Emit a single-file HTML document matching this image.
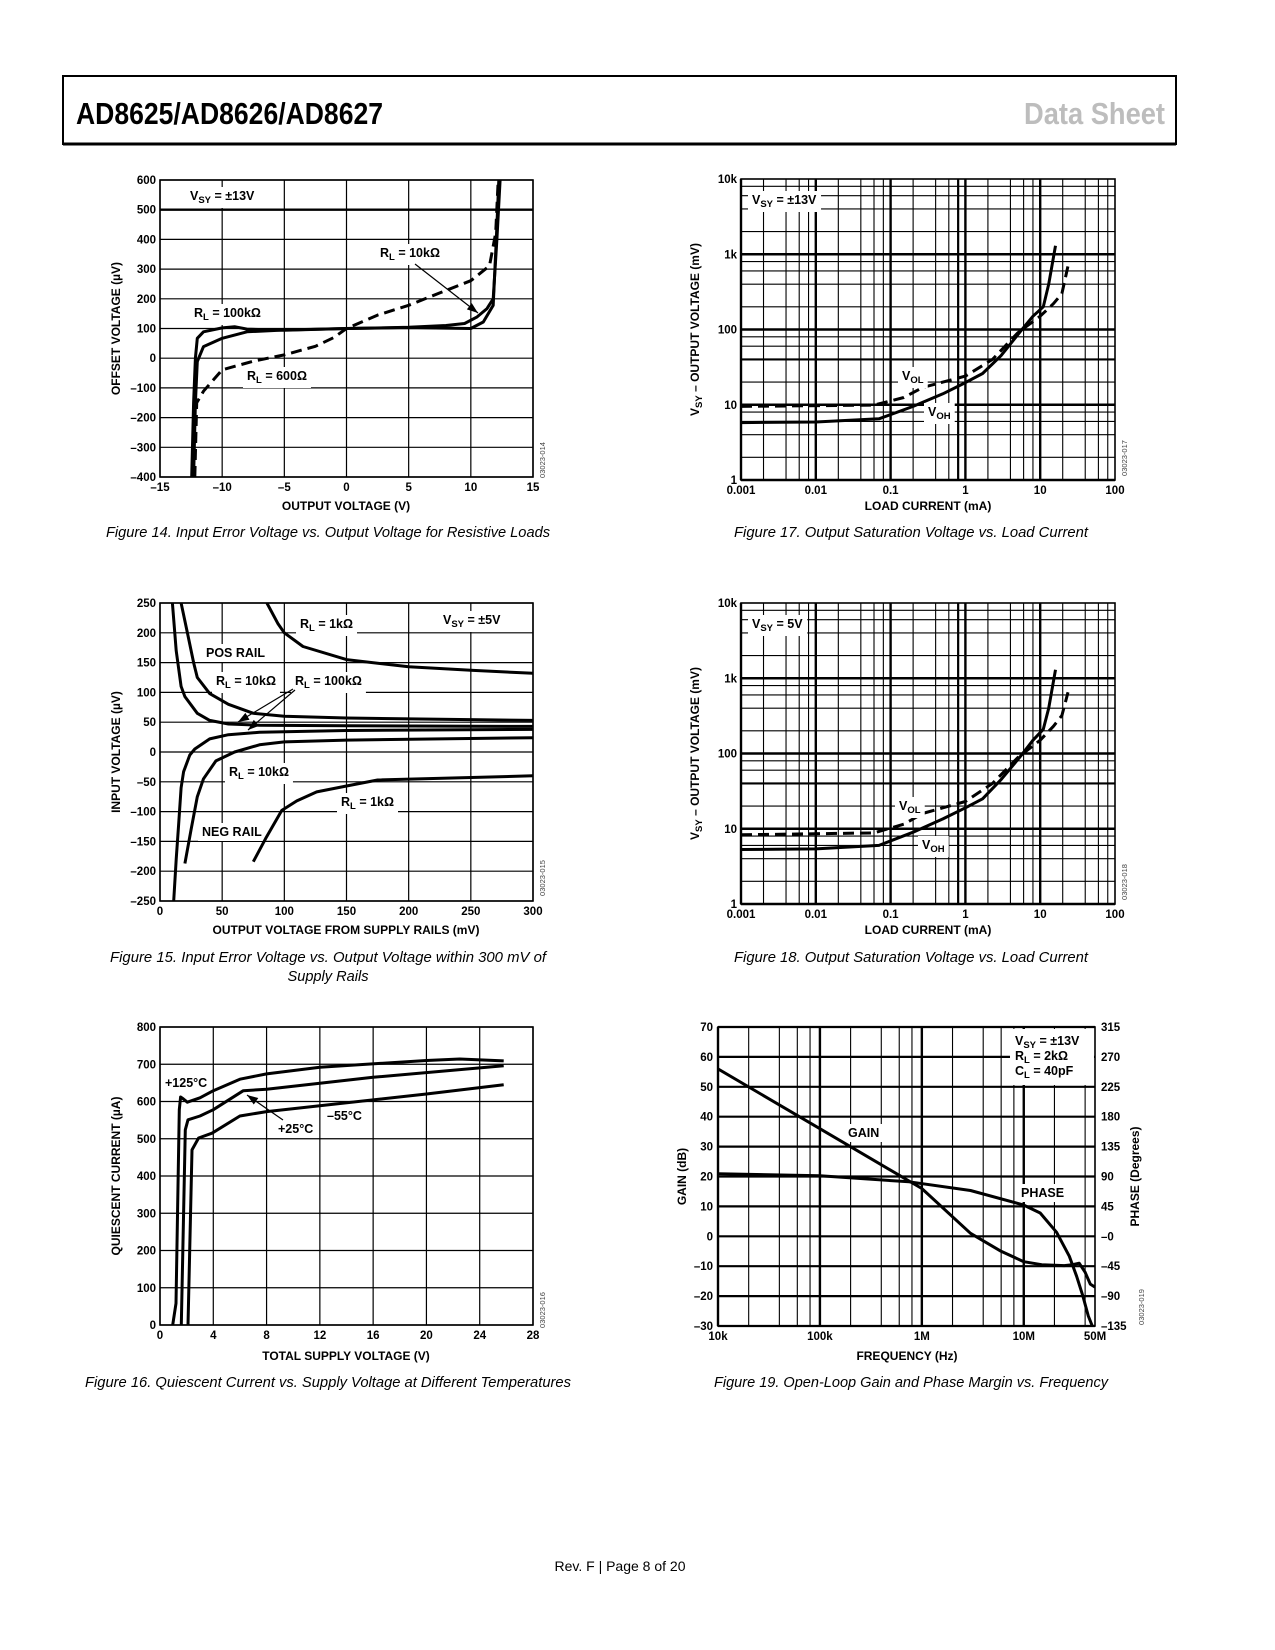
<!DOCTYPE html>
<html><head><meta charset="utf-8"><style>
html,body{margin:0;padding:0;background:#fff;}
svg{display:block;font-family:"Liberation Sans",Arial,sans-serif;}
</style></head><body>
<svg id="page" width="1275" height="1650" viewBox="0 0 1275 1650" xmlns="http://www.w3.org/2000/svg">
<rect x="0" y="0" width="1275" height="1650" fill="#fff"/>
<g>
<rect x="63" y="76" width="1113" height="68" fill="none" stroke="#000" stroke-width="2"/>
<line x1="63" y1="144" x2="1176" y2="144" stroke="#000" stroke-width="3"/>
<text x="76" y="124" font-family="'Liberation Sans Narrow','Liberation Sans',sans-serif" font-weight="bold" font-size="31" textLength="307" lengthAdjust="spacingAndGlyphs">AD8625/AD8626/AD8627</text>
<text x="1024" y="124" font-family="'Liberation Sans Narrow','Liberation Sans',sans-serif" font-weight="bold" font-size="31" fill="#bdbdbd" textLength="141" lengthAdjust="spacingAndGlyphs">Data Sheet</text>
</g>
<text x="620" y="1571" text-anchor="middle" font-size="14">Rev. F | Page 8 of 20</text>
</svg>
<script>
// ---------- DATA ----------
// Fig 14 (x: V, y: µV)
const f14_rl100k = [[-12.45,-400],[-12.3,-150],[-12.15,0],[-12.0,67],[-11.5,89],[-10,102],[-9,106],[-8,98],[-5,94],[0,100],[5,104],[8,110],[9.5,117],[10.5,139],[11.3,167],[11.8,200],[12.1,400],[12.35,600]];
const f14_rl10k = [[-12.3,-400],[-12.15,-150],[-12.0,-11],[-11.5,39],[-10,67],[-8,89],[-5,95],[0,100],[5,103],[10,100],[11,122],[11.8,178],[12.05,400],[12.25,600]];
const f14_rl600 = [[-12.2,-400],[-12.05,-150],[-11.5,-111],[-10,-39],[-7.5,-10],[-5,11],[-2.5,40],[-1,70],[0,100],[2.5,145],[5,178],[7.5,220],[10,261],[11.5,311],[12,422],[12.2,600]];
const f14_xticks = [-15,-10,-5,0,5,10,15];
const f14_yticks = [-400,-300,-200,-100,0,100,200,300,400,500,600];
// Fig 15 (x: mV, y: µV)
const f15_pos100k = [[10,250],[13,170],[17,110],[20,93],[30,65],[40,53],[55,47],[80,45],[150,44],[300,43]];
const f15_pos10k = [[17,250],[22,200],[27,150],[30,125],[40,98],[55,80],[75,65],[100,60],[150,57],[300,53]];
const f15_pos1k = [[86,250],[95,215],[100,200],[115,177],[150,155],[200,143],[250,137],[300,132]];
const f15_neg100k = [[11,-250],[13,-180],[15,-120],[17,-60],[19,-33],[24,-5],[28,5],[40,22],[55,29],[80,33],[150,36],[300,38]];
const f15_neg10k = [[20,-187],[25,-130],[30,-75],[35,-45],[45,-15],[60,0],[80,12],[100,17],[150,20],[300,24]];
const f15_neg1k = [[75,-184],[85,-145],[98,-98],[110,-82],[126,-67],[150,-57],[175,-47],[300,-40]];
const f15_xticks = [0,50,100,150,200,250,300];
const f15_yticks = [-250,-200,-150,-100,-50,0,50,100,150,200,250];
// Fig 16 (x: V, y: µA)
const f16_t125 = [[0.95,0],[1.2,58],[1.45,578],[1.55,612],[1.75,607],[2.05,598],[3,610],[4,629],[6,660],[8,674],[12,692],[20,710],[22.5,714],[25.8,709]];
const f16_t25 = [[1.6,0],[1.9,524],[2.1,551],[3,561],[4,578],[6.25,629],[8,633],[16,665],[25.8,696]];
const f16_tm55 = [[2.1,0],[2.4,470],[2.9,502],[3.9,515],[6,561],[8,573],[20,620],[25.8,645]];
const f16_xticks = [0,4,8,12,16,20,24,28];
const f16_yticks = [0,100,200,300,400,500,600,700,800];
// Fig 17 (x: mA, y: mV)
const f17_voh = [[0.001,5.8],[0.01,5.9],[0.07,6.5],[0.2,9.5],[0.5,14],[1,19.7],[1.7,26],[3,45],[5.6,98],[8,150],[11,200],[13,400],[16,1300]];
const f17_vol = [[0.001,9.5],[0.06,9.9],[0.15,12.5],[0.27,17],[0.5,20],[1,24],[2.3,40],[5,90],[10,150],[15,220],[19.5,300],[23.5,700]];
// Fig 18 (x: mA, y: mV)
const f18_voh = [[0.001,5.3],[0.01,5.4],[0.07,6.0],[0.2,9],[0.5,13.5],[1,19],[1.7,25],[3,45],[5.6,95],[8,150],[11,210],[13,400],[16,1300]];
const f18_vol = [[0.001,8.3],[0.06,8.8],[0.15,11.5],[0.27,16],[0.5,19],[1,23],[2.3,40],[5,88],[10,150],[15,230],[19.5,320],[23.5,650]];
const logXticks = [0.001,0.01,0.1,1,10,100];
const logXlabels = ["0.001","0.01","0.1","1","10","100"];
const logYticks = [1,10,100,1000,10000];
const logYlabels = ["1","10","100","1k","10k"];
// Fig 19 (x: Hz, gain dB, phase deg)
const f19_gain = [[1e4,56],[1e5,36],[1e6,16],[3e6,1],[6e6,-5],[1e7,-8.5],[1.5e7,-9.5],[2.5e7,-9.8],[3e7,-9.5],[3.5e7,-9],[4e7,-12],[4.5e7,-16],[5e7,-17]];
const f19_phase = [[1e4,94],[1e5,91],[7.5e5,82],[3e6,69],[1e7,47],[1.45e7,35],[2.1e7,6],[2.8e7,-30],[3.3e7,-60],[3.8e7,-90],[4.3e7,-120],[4.7e7,-135]];
const f19_xticks = [1e4,1e5,1e6,1e7,5e7];
const f19_xlabels = ["10k","100k","1M","10M","50M"];
const f19_gticks = [-30,-20,-10,0,10,20,30,40,50,60,70];
const f19_pticks = ["\u2013135","\u201390","\u201345","\u20130","45","90","135","180","225","270","315"];

// ---------- HELPERS ----------
const NS = "http://www.w3.org/2000/svg";
const page = document.getElementById('page');
const MINORS = [2,4,6,8];
function mk(tag, attrs, parent) {
  const e = document.createElementNS(NS, tag);
  for (const k in attrs) e.setAttribute(k, attrs[k]);
  (parent || page).appendChild(e);
  return e;
}
function fmt(v){ return v < 0 ? "\u2013" + Math.abs(v) : String(v); }
function lin(d0,d1,r0,r1){ return v => r0 + (v-d0)*(r1-r0)/(d1-d0); }
function lg(d0,d1,r0,r1){ const a=Math.log10(d0), b=Math.log10(d1); return v => r0 + (Math.log10(v)-a)*(r1-r0)/(b-a); }
function pathD(pts, sx, sy){
  return pts.map((p,i)=>(i?'L':'M')+sx(p[0]).toFixed(1)+' '+sy(p[1]).toFixed(1)).join(' ');
}
let clipN = 0;
function frame(g, x0,y0,x1,y1){
  const id = 'clip'+(clipN++);
  const cp = mk('clipPath',{id:id}, g);
  mk('rect',{x:x0,y:y0,width:x1-x0,height:y1-y0}, cp);
  return id;
}
function curve(g, pts, sx, sy, clip, dashed, name){
  const p = mk('path',{d:pathD(pts,sx,sy), fill:'none', stroke:'#000', 'stroke-width':3, 'stroke-linejoin':'round', 'clip-path':'url(#'+clip+')'}, g);
  if (dashed) p.setAttribute('stroke-dasharray','11 6');
  
  
  return p;
}
function label(g, x, y, html, name, bg){
  const t = mk('text',{x:x,y:y,'font-size':12.5,'font-weight':'bold'}, g);
  t.innerHTML = html;
  
  
  if (bg){
    const b = t.getBBox();
    const r = document.createElementNS(NS,'rect');
    r.setAttribute('x', b.x-4); r.setAttribute('y', b.y-2); r.setAttribute('width', b.width+8); r.setAttribute('height', b.height+4); r.setAttribute('fill','#fff');
    g.insertBefore(r, t);
  }
  return t;
}
function sub(main, s, rest){ return main + '<tspan dy="3" font-size="9.5">'+s+'</tspan><tspan dy="-3">'+rest+'</tspan>'; }
function arrow(g, x1,y1,x2,y2, name){
  const l = mk('line',{x1:x1,y1:y1,x2:x2,y2:y2,stroke:'#000','stroke-width':1.2}, g);
  
  
  const a = Math.atan2(y2-y1,x2-x1), L=11, W=4;
  const bx=x2-L*Math.cos(a), by=y2-L*Math.sin(a);
  mk('polygon',{points:`${x2},${y2} ${bx+W*Math.sin(a)},${by-W*Math.cos(a)} ${bx-W*Math.sin(a)},${by+W*Math.cos(a)}`, fill:'#000'}, g);
}
function tickText(g, x, y, s, anchor){
  const t = mk('text',{x:x,y:y,'font-size':11.5,'font-weight':'bold','text-anchor':anchor}, g);
  t.textContent = s;
  
  
  return t;
}
function axisTitle(g, x, y, s, rot, name){
  const t = mk('text',{x:x,y:y,'font-size':12,'font-weight':'bold','text-anchor':'middle'}, g);
  if (rot) t.setAttribute('transform',`rotate(-90 ${x} ${y})`);
  t.innerHTML = s;
  
  
}
function code(g, x, y, s){
  const t = mk('text',{x:x,y:y,'font-size':7.5,fill:'#444','text-anchor':'middle',transform:`rotate(-90 ${x} ${y})`}, g);
  t.textContent = s;
  
  
}
function caption(x, y, s, w, name){
  const t = mk('text',{x:x,y:y,'font-size':15,'font-style':'italic','text-anchor':'middle',textLength:w,lengthAdjust:'spacingAndGlyphs'});
  t.textContent = s;
  
  
}
function linGrid(g, x0,y0,x1,y1, xt, yt, sx, sy, thickY){
  xt.forEach(v=>mk('line',{x1:sx(v),y1:y0,x2:sx(v),y2:y1,stroke:'#000','stroke-width':1.2},g));
  yt.forEach(v=>mk('line',{x1:x0,y1:sy(v),x2:x1,y2:sy(v),stroke:'#000','stroke-width':(thickY&&thickY.includes(v))?2.4:1.2},g));
  mk('rect',{x:x0,y:y0,width:x1-x0,height:y1-y0,fill:'none',stroke:'#000','stroke-width':1.6},g);
  xt.forEach(v=>tickText(g, sx(v), y1+14, fmt(v), 'middle'));
  yt.forEach(v=>tickText(g, x0-4, sy(v)+4, fmt(v), 'end'));
}
function logGridX(g, dmin, dmax, sx, y0, y1, thick){
  for (let d=dmin; d<dmax*0.999; d*=10){
    [1].concat(MINORS).forEach(m=>{ const v=d*m; if (v>dmax*1.0001) return;
      mk('line',{x1:sx(v),y1:y0,x2:sx(v),y2:y1,stroke:'#000','stroke-width':m===1?thick:1.1},g); });
  }
}
function logGridY(g, dmin, dmax, sy, x0, x1, thick){
  for (let d=dmin; d<dmax*0.999; d*=10){
    [1].concat(MINORS).forEach(m=>{ const v=d*m; if (v>dmax*1.0001) return;
      mk('line',{x1:x0,y1:sy(v),x2:x1,y2:sy(v),stroke:'#000','stroke-width':m===1?thick:1.1},g); });
  }
}

// ---------- FIG 14 ----------
(function(){
  const g = mk('g',{});
  
  
  const X0=160,X1=533,Y0=180,Y1=477;
  const sx=lin(-15,15,X0,X1), sy=lin(-400,600,Y1,Y0);
  linGrid(g,X0,Y0,X1,Y1,f14_xticks,f14_yticks,sx,sy,[500]);
  const c=frame(g,X0,Y0,X1,Y1);
  label(g,190,200,sub('V','SY',' = \u00b113V'),'vsy-label',true);
  curve(g,f14_rl100k,sx,sy,c,false,'series-rl-100k');
  curve(g,f14_rl10k,sx,sy,c,false,'series-rl-10k');
  curve(g,f14_rl600,sx,sy,c,true,'series-rl-600');
  label(g,380,257,sub('R','L',' = 10k\u03a9'),'rl-10k-label',true);
  arrow(g,415,264,478,313,'rl-10k-arrow');
  label(g,194,317,sub('R','L',' = 100k\u03a9'),'rl-100k-label',true);
  label(g,247,380,sub('R','L',' = 600\u03a9'),'rl-600-label',true);
  axisTitle(g,346,510,'OUTPUT VOLTAGE (V)',false,'x-axis-title');
  axisTitle(g,120,(Y0+Y1)/2,'OFFSET VOLTAGE (\u00b5V)',true,'y-axis-title');
  code(g,545,460,'03023-014');
})();
caption(328,537,'Figure 14. Input Error Voltage vs. Output Voltage for Resistive Loads',444,'fig14-caption');

// ---------- FIG 15 ----------
(function(){
  const g = mk('g',{});
  
  
  const X0=160,X1=533,Y0=603,Y1=901;
  const sx=lin(0,300,X0,X1), sy=lin(-250,250,Y1,Y0);
  linGrid(g,X0,Y0,X1,Y1,f15_xticks,f15_yticks,sx,sy,[]);
  const c=frame(g,X0,Y0,X1,Y1);
  [[300,628,sub('R','L',' = 1k\u03a9'),'rl-1k-pos-label'],[443,624,sub('V','SY',' = \u00b15V'),'vsy-label'],
   [206,657,'POS RAIL','pos-rail-label'],[216,685,sub('R','L',' = 10k\u03a9'),'rl-10k-pos-label'],
   [295,685,sub('R','L',' = 100k\u03a9'),'rl-100k-label'],[229,776,sub('R','L',' = 10k\u03a9'),'rl-10k-neg-label'],
   [341,806,sub('R','L',' = 1k\u03a9'),'rl-1k-neg-label'],[202,836,'NEG RAIL','neg-rail-label']].forEach(l=>label(g,l[0],l[1],l[2],l[3],true));
  curve(g,f15_pos100k,sx,sy,c,false,'series-pos-100k');
  curve(g,f15_pos10k,sx,sy,c,false,'series-pos-10k');
  curve(g,f15_pos1k,sx,sy,c,false,'series-pos-1k');
  curve(g,f15_neg100k,sx,sy,c,false,'series-neg-100k');
  curve(g,f15_neg10k,sx,sy,c,false,'series-neg-10k');
  curve(g,f15_neg1k,sx,sy,c,false,'series-neg-1k');
  arrow(g,293,689,238,722,'rl-arrow-1');
  arrow(g,295,690,248,730,'rl-arrow-2');
  axisTitle(g,346,934,'OUTPUT VOLTAGE FROM SUPPLY RAILS (mV)',false,'x-axis-title');
  axisTitle(g,120,(Y0+Y1)/2,'INPUT VOLTAGE (\u00b5V)',true,'y-axis-title');
  code(g,545,878,'03023-015');
})();
caption(328,962,'Figure 15. Input Error Voltage vs. Output Voltage within 300 mV of',436,'fig15-caption-line1');
caption(328,981,'Supply Rails',81,'fig15-caption-line2');

// ---------- FIG 16 ----------
(function(){
  const g = mk('g',{});
  
  
  const X0=160,X1=533,Y0=1027,Y1=1325;
  const sx=lin(0,28,X0,X1), sy=lin(0,800,Y1,Y0);
  linGrid(g,X0,Y0,X1,Y1,f16_xticks,f16_yticks,sx,sy,[]);
  const c=frame(g,X0,Y0,X1,Y1);
  label(g,165,1087,'+125\u00b0C','t125-label',true);
  label(g,327,1120,'\u201355\u00b0C','tm55-label',true);
  label(g,278,1133,'+25\u00b0C','t25-label',true);
  curve(g,f16_t125,sx,sy,c,false,'series-125c');
  curve(g,f16_t25,sx,sy,c,false,'series-25c');
  curve(g,f16_tm55,sx,sy,c,false,'series-minus55c');
  arrow(g,283,1120,247,1095,'t25-arrow');
  axisTitle(g,346,1360,'TOTAL SUPPLY VOLTAGE (V)',false,'x-axis-title');
  axisTitle(g,120,(Y0+Y1)/2,'QUIESCENT CURRENT (\u00b5A)',true,'y-axis-title');
  code(g,545,1310,'03023-016');
})();
caption(328,1387,'Figure 16. Quiescent Current vs. Supply Voltage at Different Temperatures',486,'fig16-caption');

// ---------- FIG 17 / 18 ----------
function satChart(Y0, voh, vol, vsyText, codeTxt, name, volPos, vohPos){
  const g = mk('g',{});
  
  
  const X0=741,X1=1115,Y1=Y0+301;
  const sx=lg(0.001,100,X0,X1), sy=lg(1,10000,Y1,Y0);
  logGridX(g,0.001,100,sx,Y0,Y1,2.4);
  logGridY(g,1,10000,sy,X0,X1,2.4);
  mk('line',{x1:sx(0.8),y1:Y0,x2:sx(0.8),y2:Y1,stroke:'#000','stroke-width':2.2},g);
  mk('line',{x1:X0,y1:sy(40),x2:X1,y2:sy(40),stroke:'#000','stroke-width':2.2},g);
  mk('rect',{x:X0,y:Y0,width:X1-X0,height:Y1-Y0,fill:'none',stroke:'#000','stroke-width':1.6},g);
  logXticks.forEach((v,i)=>tickText(g,sx(v),Y1+14,logXlabels[i],'middle'));
  logYticks.forEach((v,i)=>tickText(g,X0-4,sy(v)+4,logYlabels[i],'end'));
  const c=frame(g,X0,Y0,X1,Y1);
  label(g,752,Y0+25,vsyText,'vsy-label',true);
  curve(g,voh,sx,sy,c,false,'series-voh');
  curve(g,vol,sx,sy,c,true,'series-vol');
  label(g,volPos[0],volPos[1],sub('V','OL',''),'vol-label',true);
  label(g,vohPos[0],vohPos[1],sub('V','OH',''),'voh-label',true);
  axisTitle(g,928,Y1+30,'LOAD CURRENT (mA)',false,'x-axis-title');
  axisTitle(g,699,(Y0+Y1)/2,sub('V','SY',' \u2013 OUTPUT VOLTAGE (mV)'),true,'y-axis-title');
  code(g,1127,Y1-22,codeTxt);
}
satChart(179,f17_voh,f17_vol,sub('V','SY',' = \u00b113V'),'03023-017','fig17-saturation-chart',[902,380],[928,416]);
caption(911,537,'Figure 17. Output Saturation Voltage vs. Load Current',354,'fig17-caption');
satChart(603,f18_voh,f18_vol,sub('V','SY',' = 5V'),'03023-018','fig18-saturation-chart',[899,810],[922,849]);
caption(911,962,'Figure 18. Output Saturation Voltage vs. Load Current',354,'fig18-caption');

// ---------- FIG 19 ----------
(function(){
  const g = mk('g',{});
  
  
  const X0=718,X1=1095,Y0=1027,Y1=1326;
  const sx=lg(1e4,5e7,X0,X1), sy=lin(-30,70,Y1,Y0), syp=lin(-135,315,Y1,Y0);
  logGridX(g,1e4,5e7,sx,Y0,Y1,2.4);
  f19_gticks.forEach(v=>mk('line',{x1:X0,y1:sy(v),x2:X1,y2:sy(v),stroke:'#000','stroke-width':2.2},g));
  mk('rect',{x:X0,y:Y0,width:X1-X0,height:Y1-Y0,fill:'none',stroke:'#000','stroke-width':1.6},g);
  f19_xticks.forEach((v,i)=>tickText(g,sx(v),Y1+14,f19_xlabels[i],'middle'));
  f19_gticks.forEach(v=>tickText(g,X0-5,sy(v)+4,fmt(v),'end'));
  f19_gticks.forEach((v,i)=>tickText(g,X1+6,sy(v)+4,f19_pticks[i],'start'));
  const c=frame(g,X0,Y0,X1,Y1);
  mk('rect',{x:1010,y:1029,width:84,height:56,fill:'#fff'},g);
  label(g,1015,1045,sub('V','SY',' = \u00b113V'),'vsy-label',false);
  label(g,1015,1060,sub('R','L',' = 2k\u03a9'),'rl-label',false);
  label(g,1015,1075,sub('C','L',' = 40pF'),'cl-label',false);
  label(g,848,1137,'GAIN','gain-label',true);
  label(g,1021,1197,'PHASE','phase-label',true);
  curve(g,f19_gain,sx,sy,c,false,'series-gain');
  curve(g,f19_phase,sx,syp,c,false,'series-phase');
  axisTitle(g,907,1360,'FREQUENCY (Hz)',false,'x-axis-title');
  axisTitle(g,686,(Y0+Y1)/2,'GAIN (dB)',true,'y-axis-title-left');
  axisTitle(g,1139,(Y0+Y1)/2,'PHASE (Degrees)',true,'y-axis-title-right');
  code(g,1144,1307,'03023-019');
})();
caption(911,1387,'Figure 19. Open-Loop Gain and Phase Margin vs. Frequency',394,'fig19-caption');
</script>
</body></html>
